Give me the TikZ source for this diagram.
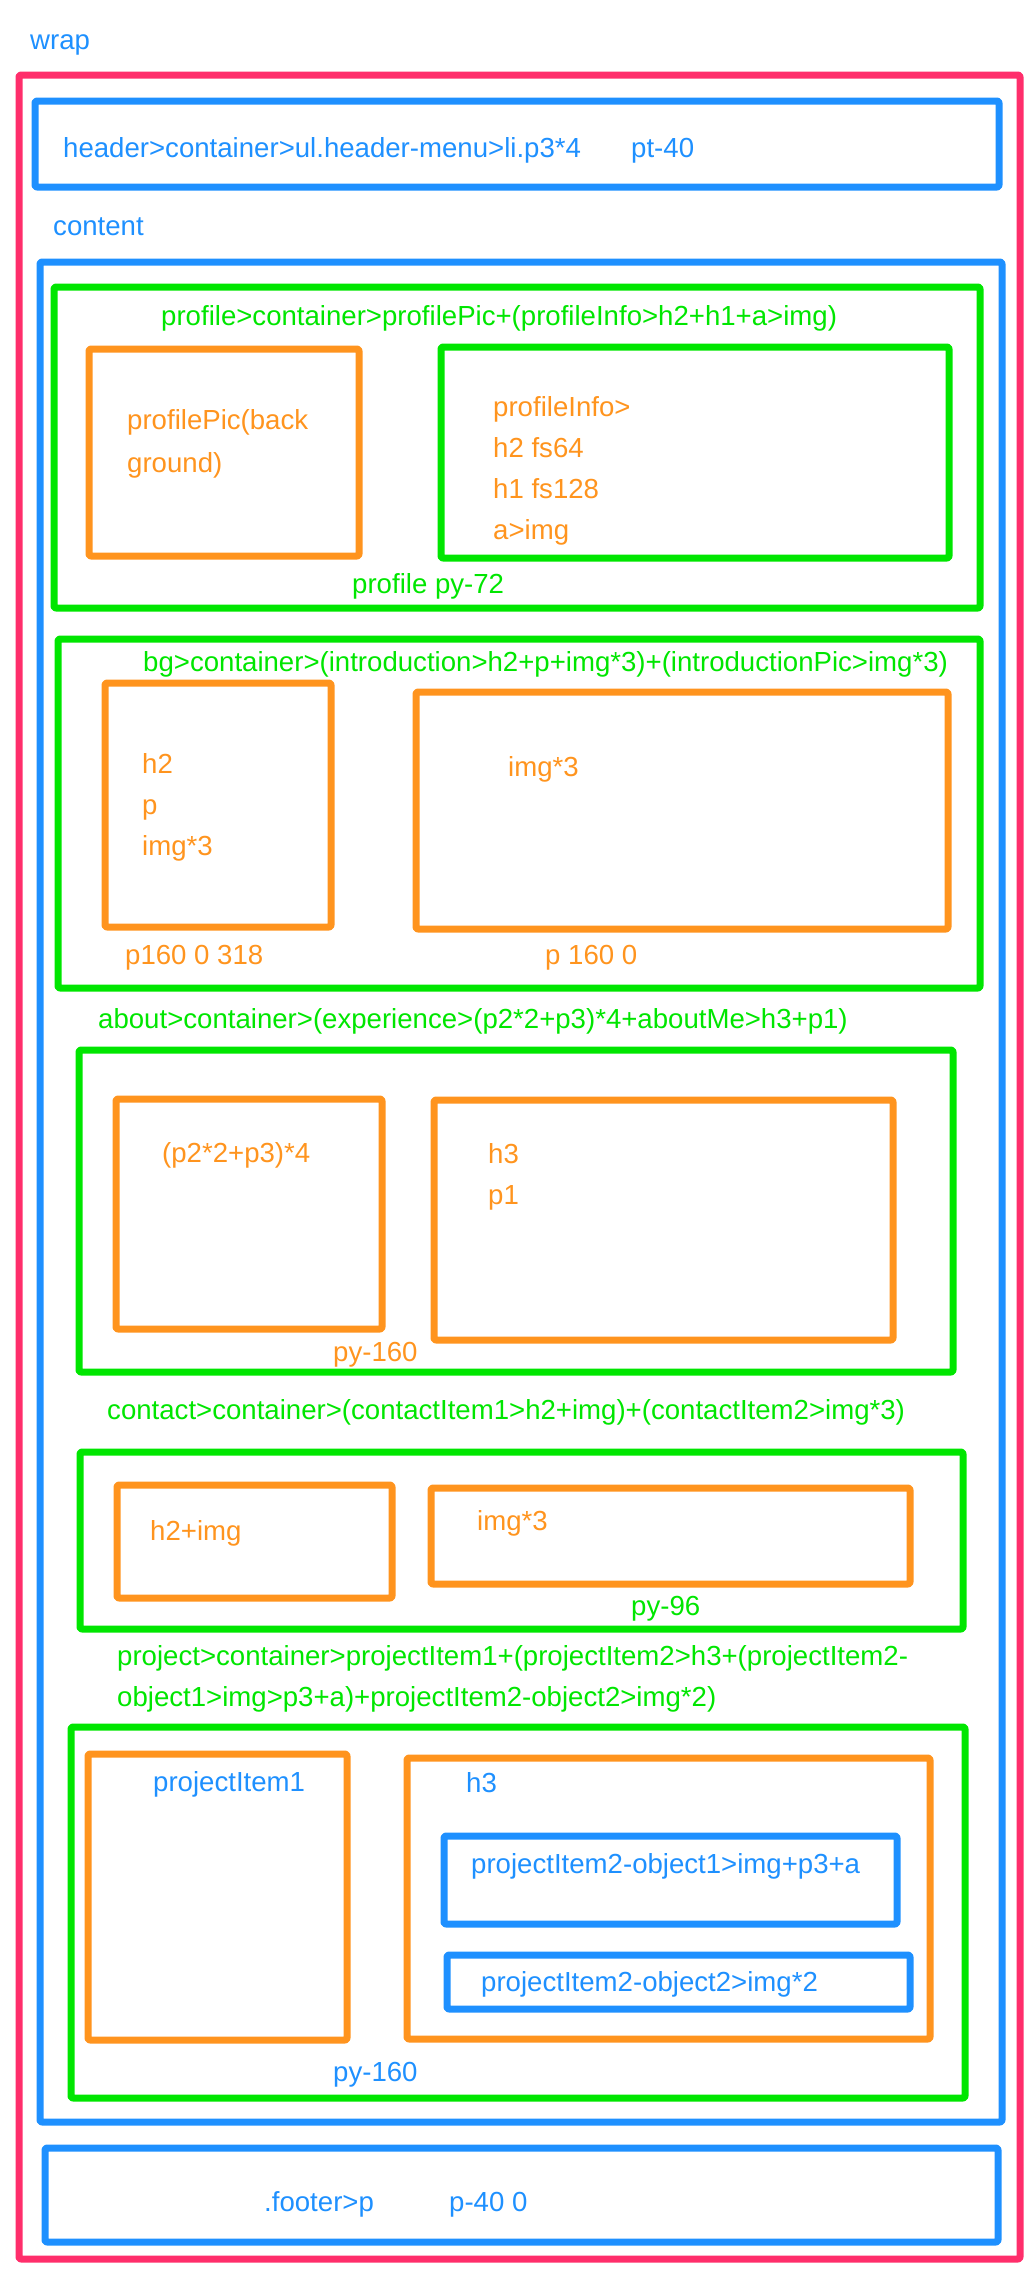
\documentclass[tikz,border=0pt]{standalone}
\usepackage{fontspec}
\setmainfont{Liberation Sans}
\definecolor{wrapred}{RGB}{255,46,107}
\definecolor{boxblue}{RGB}{30,144,255}
\definecolor{boxgreen}{RGB}{0,230,0}
\definecolor{boxorange}{RGB}{255,148,30}
\begin{document}
\begin{tikzpicture}[x=1pt,y=-1pt]
\tikzset{every node/.style={font=\fontsize{27.6}{41}\selectfont,inner sep=0pt,anchor=base west}}
\tikzset{frame/.style={line width=7pt,rounded corners=2pt,line join=round}}
\tikzset{redframe/.style={frame,draw=wrapred}}
\tikzset{blueframe/.style={frame,draw=boxblue}}
\tikzset{greenframe/.style={frame,draw=boxgreen}}
\tikzset{orangeframe/.style={frame,draw=boxorange}}
\tikzset{bluetext/.style={text=boxblue}}
\tikzset{greentext/.style={text=boxgreen}}
\tikzset{orangetext/.style={text=boxorange}}
\useasboundingbox (0,0) rectangle (1031,2292);
% wrap, header, content
\node[bluetext] (wrap) at (30,49) {wrap};
\draw[redframe] (19,75) rectangle (1020,2259);
\draw[blueframe] (35,101) rectangle (999,187);
\node[bluetext] (header) at (63,157) {header>container>ul.header-menu>li.p3*4};
\node[bluetext] (headerpad) at (631,157) {pt-40};
\node[bluetext] (content) at (53,235) {content};
\draw[blueframe] (40,262) rectangle (1002,2122);
% profile
\draw[greenframe] (54,287) rectangle (980,608);
\node[greentext] (profile) at (161,325) {profile>container>profilePic+(profileInfo>h2+h1+a>img)};
\draw[orangeframe] (89,349) rectangle (359,556);
\node[orangetext] (picA) at (127,429) {profilePic(back};
\node[orangetext] (picB) at (127,472) {ground)};
\draw[greenframe] (441,347) rectangle (949,558);
\node[orangetext] (infoA) at (493,416) {profileInfo>};
\node[orangetext] (infoB) at (493,457) {h2 fs64};
\node[orangetext] (infoC) at (493,498) {h1 fs128};
\node[orangetext] (infoD) at (493,539) {a>img};
\node[greentext] (profilepad) at (352,593) {profile py-72};
% bg
\draw[greenframe] (58,639) rectangle (980,988);
\node[greentext] (bg) at (143,671) {bg>container>(introduction>h2+p+img*3)+(introductionPic>img*3)};
\draw[orangeframe] (105,683) rectangle (331,927);
\node[orangetext] (introA) at (142,773) {h2};
\node[orangetext] (introB) at (142,814) {p};
\node[orangetext] (introC) at (142,855) {img*3};
\draw[orangeframe] (416,692) rectangle (948,929);
\node[orangetext] (intropic) at (508,776) {img*3};
\node[orangetext] (intropad) at (125,964) {p160 0 318};
\node[orangetext] (intropicpad) at (545,964) {p 160 0};
% about
\node[greentext] (about) at (98,1028) {about>container>(experience>(p2*2+p3)*4+aboutMe>h3+p1)};
\draw[greenframe] (79,1050) rectangle (953,1372);
\draw[orangeframe] (116,1099) rectangle (382,1329);
\node[orangetext] (experience) at (162,1162) {(p2*2+p3)*4};
\draw[orangeframe] (434,1100) rectangle (893,1340);
\node[orangetext] (aboutA) at (488,1163) {h3};
\node[orangetext] (aboutB) at (488,1204) {p1};
\node[orangetext] (aboutpad) at (333,1361) {py-160};
% contact
\node[greentext] (contact) at (107,1419) {contact>container>(contactItem1>h2+img)+(contactItem2>img*3)};
\draw[greenframe] (80,1452) rectangle (963,1629);
\draw[orangeframe] (117,1485) rectangle (392,1598);
\node[orangetext] (contactA) at (150,1540) {h2+img};
\draw[orangeframe] (431,1488) rectangle (910,1584);
\node[orangetext] (contactB) at (477,1530) {img*3};
\node[greentext] (contactpad) at (631,1615) {py-96};
% project
\node[greentext] (projectA) at (117,1665) {project>container>projectItem1+(projectItem2>h3+(projectItem2-};
\node[greentext] (projectB) at (117,1706) {object1>img>p3+a)+projectItem2-object2>img*2)};
\draw[greenframe] (71,1727) rectangle (965,2098);
\draw[orangeframe] (88,1754) rectangle (347,2040);
\node[bluetext] (item1) at (153,1791) {projectItem1};
\draw[orangeframe] (407,1758) rectangle (930,2039);
\node[bluetext] (item2) at (466,1792) {h3};
\draw[blueframe] (444,1836) rectangle (897,1924);
\node[bluetext] (objA) at (471,1873) {projectItem2-object1>img+p3+a};
\draw[blueframe] (447,1955) rectangle (910,2009);
\node[bluetext] (objB) at (481,1991) {projectItem2-object2>img*2};
\node[bluetext] (projectpad) at (333,2081) {py-160};
% footer
\draw[blueframe] (45,2148) rectangle (998,2242);
\node[bluetext] (footer) at (264,2211) {.footer>p};
\node[bluetext] (footerpad) at (449,2211) {p-40 0};
\end{tikzpicture}
\end{document}
